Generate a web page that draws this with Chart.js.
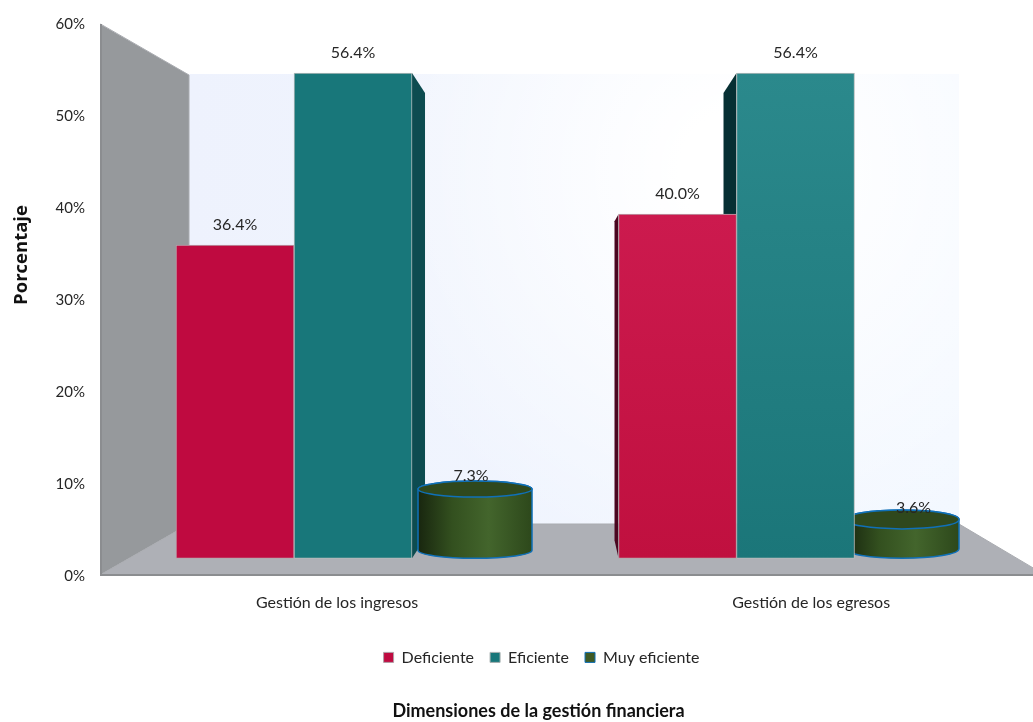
<!DOCTYPE html>
<html lang="es">
<head>
<meta charset="utf-8">
<title>Dimensiones de la gestión financiera</title>
<script src="https://cdn.jsdelivr.net/npm/chart.js@4"></script>
<style>
  html, body { margin: 0; padding: 0; background: #fff; overflow: hidden; }
  #chartBox { position: relative; width: 1033px; height: 722px; }
</style>
</head>
<body>
<div id="chartBox"><canvas id="financeChart"></canvas></div>
<script>
// Chart values
const categories = ['Gestión de los ingresos', 'Gestión de los egresos'];
const seriesNames = ['Deficiente', 'Eficiente', 'Muy eficiente'];
const deficiente = [36.4, 40.0];
const eficiente = [56.4, 56.4];
const muyEficiente = [7.3, 3.6];
const yTicks = [0, 10, 20, 30, 40, 50, 60];
const yAxisTitle = 'Porcentaje';
const xAxisTitle = 'Dimensiones de la gestión financiera';

const FONT = 'Lato, Carlito, sans-serif';
const TEXT = '#262626';
const legendColors = ['#bf0a40', '#18777a', '#3f5a25'];
const legendBorders = ['#b0a0a8', '#a8b0b0', '#1070b8'];

// Vertical gradient for the second group of bars, flat colour for the first
function barFill(context, flat, top, bottom) {
  if (context.dataIndex === 0) return flat;
  const { ctx, scales } = context.chart;
  if (!scales.yBar) return flat;
  const value = context.raw.y;
  const g = ctx.createLinearGradient(0, scales.yBar.getPixelForValue(value), 0, scales.yBar.getPixelForValue(0));
  g.addColorStop(0, top);
  g.addColorStop(1, bottom);
  return g;
}

function polygon(ctx, points, fill) {
  ctx.beginPath();
  points.forEach((p, i) => (i ? ctx.lineTo(p[0], p[1]) : ctx.moveTo(p[0], p[1])));
  ctx.closePath();
  ctx.fillStyle = fill;
  ctx.fill();
}

// Left wall, back wall and floor of the 3D box
function drawBox(ctx) {
  const back = ctx.createLinearGradient(189, 0, 959, 0);
  back.addColorStop(0, '#eef2fd');
  back.addColorStop(1, '#f3f8ff');
  ctx.fillStyle = back;
  ctx.fillRect(189, 74, 770, 450);
  const glow = ctx.createRadialGradient(740, 170, 60, 740, 170, 400);
  glow.addColorStop(0, 'rgba(255,255,255,1)');
  glow.addColorStop(1, 'rgba(255,255,255,0)');
  ctx.fillStyle = glow;
  ctx.fillRect(189, 74, 770, 450);

  polygon(ctx, [[100, 24], [189, 75], [189, 524], [100, 575]], '#96999c');
  polygon(ctx, [[100, 575], [189, 524], [959, 524], [1045, 575]], '#aeb0b6');

  ctx.strokeStyle = '#a9abb0';
  ctx.lineWidth = 1;
  ctx.beginPath();
  ctx.moveTo(100.5, 24);
  ctx.lineTo(189, 75);
  ctx.lineTo(189, 524);
  ctx.lineTo(959, 524);
  ctx.lineTo(1045, 575);
  ctx.moveTo(189, 524);
  ctx.lineTo(100, 575);
  ctx.stroke();

  ctx.strokeStyle = '#8b8d90';
  ctx.lineWidth = 2;
  ctx.beginPath();
  ctx.moveTo(101, 24);
  ctx.lineTo(101, 575);
  ctx.lineTo(1033, 575);
  ctx.stroke();
}

// Dark side faces of the square bars
function drawSides(ctx, chart) {
  const teal = chart.getDatasetMeta(1).data;
  const red = chart.getDatasetMeta(0).data;

  let bar = teal[0];
  let edge = bar.x + bar.width / 2;
  polygon(ctx, [[edge, bar.y], [edge + 13, bar.y + 20], [edge + 13, bar.base - 20], [edge, bar.base]], '#0d4c50');

  bar = teal[1];
  edge = bar.x - bar.width / 2;
  polygon(ctx, [[edge, bar.y], [edge - 13, bar.y + 20], [edge - 13, bar.base - 20], [edge, bar.base]], '#062f33');

  bar = red[1];
  edge = bar.x - bar.width / 2;
  polygon(ctx, [[edge, bar.y], [edge - 4, bar.y + 7], [edge - 4, bar.base - 18], [edge, bar.base]], '#4a0620');
}

// Third series is drawn as a cylinder, shifted a little by the perspective
const cylinderShift = [4, -11.5];
const cylinderRadiusY = [8, 9.5];

function drawCylinders(ctx, chart) {
  chart.getDatasetMeta(2).data.forEach((bar, i) => {
    const cx = bar.x + cylinderShift[i];
    const rx = 57;
    const ry = cylinderRadiusY[i];
    const top = bar.y - 6.5 - (i ? 1.5 : 0);
    const bottom = bar.base - ry;

    const side = ctx.createLinearGradient(cx - rx, 0, cx + rx, 0);
    side.addColorStop(0, '#18260f');
    side.addColorStop(0.3, '#33501f');
    side.addColorStop(0.62, '#43652c');
    side.addColorStop(1, '#2d481b');

    ctx.beginPath();
    ctx.moveTo(cx - rx, top);
    ctx.lineTo(cx - rx, bottom);
    ctx.ellipse(cx, bottom, rx, ry, 0, Math.PI, 0, true);
    ctx.lineTo(cx + rx, top);
    ctx.ellipse(cx, top, rx, ry, 0, 0, Math.PI, true);
    ctx.closePath();
    ctx.fillStyle = side;
    ctx.fill();
    ctx.strokeStyle = '#1070b8';
    ctx.lineWidth = 1.5;
    ctx.stroke();

    ctx.beginPath();
    ctx.ellipse(cx, top, rx, ry, 0, 0, Math.PI * 2);
    ctx.fillStyle = '#2f481d';
    ctx.fill();
    ctx.stroke();
  });
}

const boxPlugin = {
  id: 'box3d',
  afterLayout(chart) {
    // legend and bottom title are not centred on the canvas in the picture
    chart.legend.left += 50;
    chart.titleBlock.left += 44;
  },
  beforeDatasetsDraw(chart) {
    const ctx = chart.ctx;
    ctx.save();
    drawBox(ctx);
    drawSides(ctx, chart);
    drawCylinders(ctx, chart);
    ctx.restore();
  },
  afterDatasetsDraw(chart) {
    const ctx = chart.ctx;
    ctx.save();
    ctx.font = '16px ' + FONT;
    ctx.fillStyle = TEXT;
    ctx.textAlign = 'center';
    ctx.textBaseline = 'middle';
    chart.data.datasets.forEach((dataset, d) => {
      chart.getDatasetMeta(d).data.forEach((bar, i) => {
        ctx.fillText(dataset.data[i].y.toFixed(1) + '%', bar.x, bar.y - 20);
      });
    });

    // y axis title sits above the middle of the axis, so it is placed by hand
    ctx.translate(22, 255);
    ctx.rotate(-Math.PI / 2);
    ctx.fillStyle = '#111';
    ctx.font = 'bold 18.5px "Open Sans", ' + FONT;
    ctx.fillText(yAxisTitle, 0, 0);
    ctx.restore();
  }
};

const toPoints = values => values.map((v, i) => ({ x: i + 1, y: v }));

new Chart(document.getElementById('financeChart'), {
  type: 'bar',
  data: {
    datasets: [
      {
        label: seriesNames[0],
        data: toPoints(deficiente),
        backgroundColor: c => barFill(c, '#bf0a40', '#cc1a4e', '#c0103f'),
        borderColor: '#b9a3ab'
      },
      {
        label: seriesNames[1],
        data: toPoints(eficiente),
        backgroundColor: c => barFill(c, '#18777a', '#2b898c', '#1b7679'),
        borderColor: '#b5bcbc'
      },
      {
        label: seriesNames[2],
        data: toPoints(muyEficiente),
        backgroundColor: 'rgba(0,0,0,0)',
        borderColor: 'rgba(0,0,0,0)'
      }
    ]
  },
  options: {
    responsive: true,
    maintainAspectRatio: false,
    animation: false,
    layout: { padding: { top: 24, left: 0, right: 0, bottom: 0 } },
    datasets: {
      bar: { barThickness: 118, borderWidth: 1, borderSkipped: false, xAxisID: 'x', yAxisID: 'yBar' }
    },
    plugins: {
      tooltip: { enabled: false },
      legend: {
        position: 'bottom',
        labels: {
          color: TEXT,
          font: { family: FONT, size: 16 },
          boxWidth: 10,
          boxHeight: 10,
          padding: 16,
          generateLabels: () => seriesNames.map((name, i) => ({
            text: name,
            fillStyle: legendColors[i],
            strokeStyle: legendBorders[i],
            lineWidth: 1,
            fontColor: TEXT,
            datasetIndex: i
          }))
        }
      },
      title: {
        display: true,
        position: 'bottom',
        text: xAxisTitle,
        color: '#111',
        font: { family: FONT, size: 18, weight: 'bold' },
        padding: { top: 25, bottom: 0 }
      }
    },
    scales: {
      // bars stand on the front edge of the floor, so they get their own hidden scales
      x: { type: 'linear', display: false, offset: false, min: 0.4282, max: 2.5367 },
      yBar: { type: 'linear', display: false, min: -2.097, max: 62.1 },
      xLabels: {
        type: 'linear',
        axis: 'x',
        position: 'bottom',
        offset: false,
        min: 0.5,
        max: 2.468,
        grid: { display: false },
        border: { display: false },
        afterBuildTicks: scale => { scale.ticks = categories.map((_, i) => ({ value: i + 1 })); },
        afterFit: scale => { scale.height = 57; },
        ticks: {
          color: TEXT,
          font: { family: FONT, size: 16 },
          padding: 9,
          maxRotation: 0,
          autoSkip: false,
          callback: value => categories[value - 1]
        }
      },
      y: {
        type: 'linear',
        position: 'left',
        min: yTicks[0],
        max: yTicks[yTicks.length - 1],
        grid: { display: false },
        border: { display: false },
        afterBuildTicks: scale => { scale.ticks = yTicks.map(v => ({ value: v })); },
        afterFit: scale => { scale.width = 100; },
        ticks: {
          color: TEXT,
          font: { family: FONT, size: 15 },
          padding: 7,
          callback: value => value + '%'
        }
      }
    }
  },
  plugins: [boxPlugin]
});
</script>
</body>
</html>
